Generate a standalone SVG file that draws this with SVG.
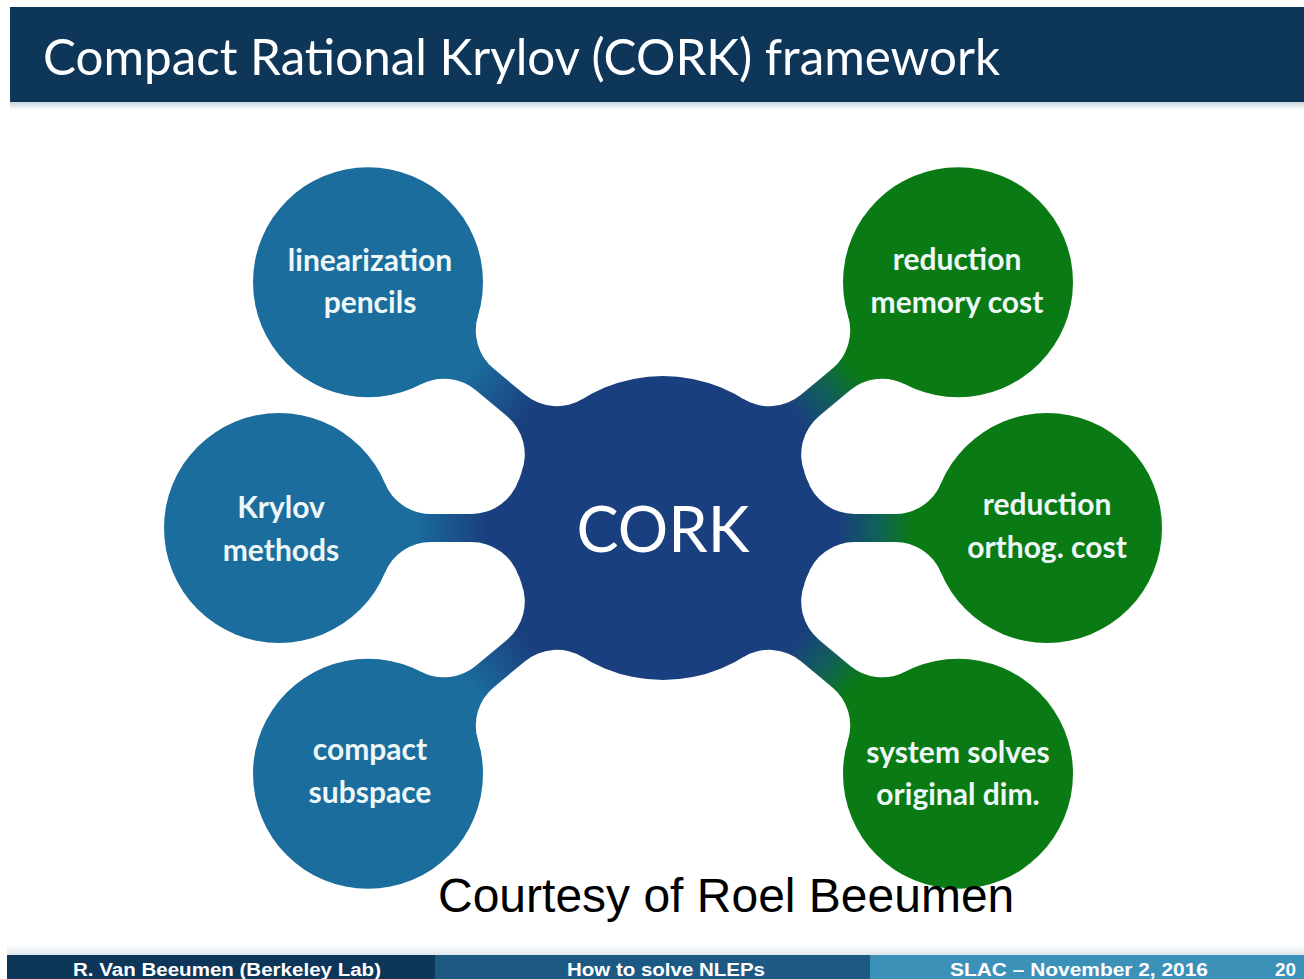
<svg xmlns="http://www.w3.org/2000/svg" width="1304" height="979" viewBox="0 0 1304 979">
  <defs>
    <!-- neck shading runs along the local x axis, from the hub edge to the satellite edge -->
    <linearGradient id="neckBlue" gradientUnits="userSpaceOnUse" x1="175" y1="0" x2="250" y2="0">
      <stop offset="0" stop-color="#1a3f7e"/>
      <stop offset="1" stop-color="#1b6d9d"/>
    </linearGradient>
    <linearGradient id="neckGreen" gradientUnits="userSpaceOnUse" x1="175" y1="0" x2="250" y2="0">
      <stop offset="0" stop-color="#1a3f7e"/>
      <stop offset="0.5" stop-color="#115f5a"/>
      <stop offset="1" stop-color="#0a7b14"/>
    </linearGradient>
    <linearGradient id="shadeDown" x1="0" y1="0" x2="0" y2="1">
      <stop offset="0" stop-color="#c9d3dc"/>
      <stop offset="1" stop-color="#ffffff"/>
    </linearGradient>
    <linearGradient id="shadeUp" x1="0" y1="0" x2="0" y2="1">
      <stop offset="0" stop-color="#ffffff"/>
      <stop offset="1" stop-color="#dfe6ec"/>
    </linearGradient>
    <!-- one neck: hub (r=152) at the origin, satellite (r=115) at x=384,
         a short band of half-width 14 with r=50 fillets at both ends -->
    <path id="neck" d="M144.2,-48.2 A50 50 0 0 0 191.6,-14 L231.9,-14 A50 50 0 0 0 278,-44.6 L278,44.6 A50 50 0 0 0 231.9,14 L191.6,14 A50 50 0 0 0 144.2,48.2 Z"/>
  </defs>
  <style>
    .hub { fill: #1a3f7e; }
    .blue { fill: #1b6d9d; }
    .green { fill: #0a7b14; }
    .label { font-family: Lato, "Open Sans", "Liberation Sans", sans-serif; font-size: 30px; font-weight: 700; fill: #eef7f7; text-anchor: middle; }
    .foot { font-family: "Liberation Sans", Arial, sans-serif; font-size: 18px; font-weight: 700; fill: #ffffff; }
  </style>

  <rect width="1304" height="979" fill="#ffffff"/>

  <!-- title bar -->
  <g id="header">
    <rect x="10" y="7" width="1294" height="95" fill="#0d3659"/>
    <rect x="10" y="102" width="1294" height="8" fill="url(#shadeDown)"/>
    <text x="43" y="75" font-family="Lato, 'Open Sans', 'Liberation Sans', sans-serif" font-size="51" fill="#ffffff" textLength="957" lengthAdjust="spacingAndGlyphs">Compact Rational Krylov (CORK) framework</text>
  </g>

  <!-- necks joining the hub to each satellite -->
  <g id="connectors">
    <use href="#neck" fill="url(#neckBlue)" transform="translate(663,528) rotate(-140.2)"/>
    <use href="#neck" fill="url(#neckBlue)" transform="translate(663,528) rotate(180)"/>
    <use href="#neck" fill="url(#neckBlue)" transform="translate(663,528) rotate(140.2)"/>
    <use href="#neck" fill="url(#neckGreen)" transform="translate(663,528) rotate(-39.8)"/>
    <use href="#neck" fill="url(#neckGreen)" transform="translate(663,528) rotate(0)"/>
    <use href="#neck" fill="url(#neckGreen)" transform="translate(663,528) rotate(39.8)"/>
  </g>

  <g id="node-cork">
    <circle class="hub" cx="663" cy="528" r="152"/>
    <text x="663" y="552" font-family="Lato, 'Open Sans', 'Liberation Sans', sans-serif" font-size="63" fill="#ffffff" text-anchor="middle">CORK</text>
  </g>

  <g id="node-linearization">
    <circle class="blue" cx="368" cy="282.2" r="115"/>
    <text class="label" x="370" y="271">linearization</text>
    <text class="label" x="370" y="313">pencils</text>
  </g>

  <g id="node-krylov">
    <circle class="blue" cx="279" cy="528" r="115"/>
    <text class="label" x="281" y="518">Krylov</text>
    <text class="label" x="281" y="561">methods</text>
  </g>

  <g id="node-compact">
    <circle class="blue" cx="368" cy="773.8" r="115"/>
    <text class="label" x="370" y="760">compact</text>
    <text class="label" x="370" y="803">subspace</text>
  </g>

  <g id="node-memory">
    <circle class="green" cx="958" cy="282.2" r="115"/>
    <text class="label" x="957" y="270">reduction</text>
    <text class="label" x="957" y="313">memory cost</text>
  </g>

  <g id="node-orthog">
    <circle class="green" cx="1047" cy="528" r="115"/>
    <text class="label" x="1047" y="515">reduction</text>
    <text class="label" x="1047" y="558">orthog. cost</text>
  </g>

  <g id="node-solves">
    <circle class="green" cx="958" cy="773.8" r="115"/>
    <text class="label" x="958" y="763">system solves</text>
    <text class="label" x="958" y="805">original dim.</text>
  </g>

  <text x="438" y="912" font-family="'Liberation Sans', Arial, sans-serif" font-size="48" fill="#000000">Courtesy of Roel Beeumen</text>

  <!-- footer strip -->
  <g id="footer">
    <rect x="7" y="945" width="1297" height="10" fill="url(#shadeUp)"/>
    <rect x="7" y="955" width="428" height="24" fill="#0d3659"/>
    <rect x="435" y="955" width="435" height="24" fill="#1c5a84"/>
    <rect x="870" y="955" width="434" height="24" fill="#3c91b9"/>
    <text class="foot" x="73" y="976" textLength="308" lengthAdjust="spacingAndGlyphs">R. Van Beeumen (Berkeley Lab)</text>
    <text class="foot" x="567" y="976" textLength="198" lengthAdjust="spacingAndGlyphs">How to solve NLEPs</text>
    <text class="foot" x="950" y="976" textLength="258" lengthAdjust="spacingAndGlyphs">SLAC – November 2, 2016</text>
    <text class="foot" x="1275" y="976" textLength="21" lengthAdjust="spacingAndGlyphs">20</text>
  </g>
</svg>
